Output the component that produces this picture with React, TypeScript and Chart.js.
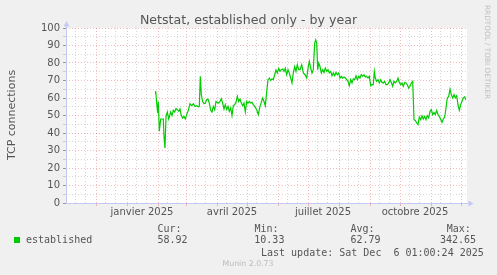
import React, { useEffect, useRef } from 'react';
import { Chart, registerables } from 'chart.js';

Chart.register(...registerables);

// Time axis: days since 1 Nov 2024 (400-day Munin "by year" window)
const START_UTC = Date.UTC(2024, 10, 1);
const RANGE_DAYS = 400;

const sampleDays = [
  89, 89.7, 90.7, 91.7, 92.3, 93.3, 94.7, 96, 97.3, 98, 99, 100, 101.3, 102.7, 104.7, 106, 107.3, 108.7, 110,
  111.3, 112.7, 114, 115.3, 116.7, 118, 119.3, 120.7, 122.3, 124, 125.7, 127.3, 129, 130.7, 132.3, 133.3,
  134.3, 135.3, 136.7, 138, 139.3, 140.7, 142, 143.3, 144.7, 146, 147.3, 148.7, 150, 151.3, 152.7, 154,
  155.3, 156.7, 158, 159.3, 160.7, 162, 163.3, 164.7, 166, 167.3, 168.7, 170, 171.3, 172.7, 174, 175.3,
  176.7, 178, 179.3, 180.7, 182, 183.3, 184.7, 186, 187.3, 188.7, 190.7, 192.3, 194, 195.3, 196.7, 198,
  199.3, 200.7, 202, 203.3, 204.7, 206, 207.3, 208.7, 210, 211.3, 212.7, 214, 215.3, 216.7, 218, 219.3,
  220.7, 222, 223.3, 224.7, 226, 227.3, 228.7, 230, 231.3, 232.7,
  234, 235.7, 237.3, 239, 240.7, 242.3, 243.3, 244.7, 246, 247.3, 248.7, 249.7, 250.7, 251.7, 252.7, 254,
  255.3, 256.7, 258, 259.3, 260.7, 262, 263.3, 264.7, 266, 267.3, 268.7, 270, 271.3, 272.7, 274, 275.3,
  276.7, 278, 279.3, 280.7, 282, 283.3, 284.7, 286, 287.3, 288.7, 290, 291.3, 292.7, 294, 295.3, 296.7,
  298, 299.3, 300.7, 302, 303.3, 304.7, 306, 307.3, 308.3, 309.3, 310.7, 312, 313.3, 314.7, 316, 317.3,
  318.7, 320, 321.3, 322.7, 324, 325.3, 326.7, 328, 329.3, 330.7, 332, 333.3, 334.7, 336, 337.3, 338.7,
  340, 341.3, 342.7, 344, 345.3, 346.7, 348, 349.3, 350.7, 352, 353.3, 354.7, 356, 357.3, 358.7, 360,
  361.3, 362.7, 364, 365.3, 366.7, 368, 369.3, 370.7, 372, 373.3, 374.7, 376, 377.3, 378.7, 380, 381.3,
  382.7, 384, 385.3, 386.7, 388, 389.3, 390.7, 392, 393.3, 394.7, 396, 397.3, 398.7, 400,
];

const connections = [
  62.7, 64, 57, 51.4, 58, 41, 48, 48, 48, 38, 31.4, 49.5, 52, 48, 52, 50, 53, 52, 54,
  53.3, 52.4, 53.7, 50, 48.5, 49.5, 48, 50.5, 53, 56.7, 55.6, 56.7, 55.2, 55.6, 55, 55.2,
  72.4, 62, 58, 56.7, 57.1, 59, 59.4, 57.1, 53, 52, 55.2, 53.3, 58, 57.5, 57.1, 58,
  59.6, 57.1, 53.7, 56.2, 53.3, 55.2, 52.4, 54.3, 50, 55.6, 56.2, 57.5, 61, 58, 59.4, 57.1,
  55.6, 57.1, 52, 58, 57.1, 58, 57.1, 57.5, 56.2, 55.2, 53.3, 50.5, 55.2, 57.5, 60, 58,
  55.6, 63.4, 70.5, 71.4, 70, 70.9, 70.5, 73.3, 76, 74.3, 77, 75.2, 76.2, 76.6, 75.2, 77,
  73.3, 76.2, 74.3, 71.4, 68.6, 74.3, 78, 75.2, 79, 76.2,
  76.2, 79, 74.3, 73.3, 71.4, 78.1, 80.9, 77.1, 74.3, 76.2, 91.4, 93.3, 91.4, 76.2, 80, 78.1,
  74.3, 76.2, 74.6, 77.1, 75.2, 76.2, 74.3, 75.2, 72.7, 74.3, 72.7, 74.6, 73.3, 74.3, 71.4, 72.4,
  71.4, 72, 71.4, 70.5, 69.5, 67, 70.5, 68.6, 70.9, 70.5, 72.7, 70.5, 72.4, 71.4, 73.3, 72.4,
  73.3, 72, 72.4, 71.4, 72.4, 67, 67.6, 67.6, 75.2, 71.4, 69.5, 70.5, 68.6, 70.5, 68.9, 68.6,
  69.5, 67.6, 67.6, 68.6, 70.5, 68.9, 66.7, 69.5, 68.6, 69.5, 71.4, 68.9, 67.6, 68.6, 66.7, 68.9,
  68.6, 67.6, 65.7, 66.7, 68.6, 69.5, 47.6, 47.2, 45.7, 44.8, 49.1, 47.6, 49.9, 48, 49.5, 47.6,
  49.9, 48.6, 52.4, 53.4, 50.5, 51.8, 50.5, 52.9, 50.5, 49.5, 47.8, 46.1, 48, 49.1, 54.3, 60,
  60.9, 65, 61.9, 60, 61.9, 60, 61.3, 56, 53, 56.2, 58.1, 60, 60.6, 58.9,
];

const yTickValues = [0, 5, 10, 15, 20, 25, 30, 35, 40, 45, 50, 55, 60, 65, 70, 75, 80, 85, 90, 95, 100];

// month grid lines (year, monthIndex)
const gridMonths: [number, number][] = [
  [2024, 11], [2025, 0], [2025, 1], [2025, 2], [2025, 3], [2025, 4], [2025, 5],
  [2025, 6], [2025, 7], [2025, 8], [2025, 9], [2025, 10], [2025, 11],
];
const minorMonths: [number, number][] = [[2024, 10], ...gridMonths];
const minorDaysOfMonth = [10, 20];

const xLabelMonths: [number, number][] = [[2025, 0], [2025, 3], [2025, 6], [2025, 9]];
const xLabelTexts = ['janvier 2025', 'avril 2025', 'juillet 2025', 'octobre 2025'];

const seriesName = 'established';
const statHeaders = ['Cur:', 'Min:', 'Avg:', 'Max:'];
const statValues = ['58.92', '10.33', '62.79', '342.65'];
const titleText = 'Netstat, established only - by year';
const yTitle = 'TCP connections';
const lastUpdate = 'Last update: Sat Dec  6 01:00:24 2025';
const footer = 'Munin 2.0.73';
const sideText = 'RRDTOOL / TOBI OETIKER';

const dayOf = (y: number, m: number, d: number) => (Date.UTC(y, m, d) - START_UTC) / 86400000;

const majorX = gridMonths.map(([y, m]) => dayOf(y, m, 1));
const minorX: number[] = [];
minorMonths.forEach(([y, m]) => minorDaysOfMonth.forEach((d) => {
  const v = dayOf(y, m, d);
  if (v > 0 && v < RANGE_DAYS) minorX.push(v);
}));
const labelX = xLabelMonths.map(([y, m]) => dayOf(y, m, 1) + 15);
const xLabelByDay = new Map<number, string>();
labelX.forEach((v, i) => xLabelByDay.set(v, xLabelTexts[i]));
const majorSet = new Set(majorX);
const minorSet = new Set(minorX);
const xTickValues = [...majorX, ...minorX, ...labelX].sort((a, b) => a - b);

const RED_GRID = 'rgba(230, 90, 90, 0.42)';
const GRAY_GRID = 'rgba(160, 160, 160, 0.42)';
const AXIS = '#c4c8f2';
const TEXT = '#555555';

const muninPlugin = {
  id: 'muninDecor',
  beforeDraw(chart: any) {
    const { ctx, chartArea: a, width, height } = chart;
    ctx.save();
    ctx.fillStyle = '#f0f0f0';
    ctx.fillRect(0, 0, width, height);
    ctx.fillStyle = '#ffffff';
    ctx.fillRect(a.left, a.top, a.right - a.left + 1, a.bottom - a.top + 1);
    ctx.restore();
  },
  afterDraw(chart: any) {
    const { ctx, chartArea: a } = chart;
    ctx.save();
    // axes
    ctx.strokeStyle = AXIS;
    ctx.fillStyle = AXIS;
    ctx.lineWidth = 1;
    ctx.beginPath();
    ctx.moveTo(a.left + 0.5, a.bottom + 1);
    ctx.lineTo(a.left + 0.5, a.top - 3);
    ctx.moveTo(a.left, a.bottom + 0.5);
    ctx.lineTo(a.right + 3, a.bottom + 0.5);
    ctx.stroke();
    ctx.beginPath();
    ctx.moveTo(a.left + 0.5, a.top - 7);
    ctx.lineTo(a.left - 2.5, a.top - 1.5);
    ctx.lineTo(a.left + 3.5, a.top - 1.5);
    ctx.closePath();
    ctx.fill();
    ctx.beginPath();
    ctx.moveTo(a.right + 7.5, a.bottom + 0.5);
    ctx.lineTo(a.right + 2.5, a.bottom - 2.5);
    ctx.lineTo(a.right + 2.5, a.bottom + 3.5);
    ctx.closePath();
    ctx.fill();

    // title
    ctx.fillStyle = TEXT;
    ctx.font = '12.6px "DejaVu Sans"';
    ctx.textAlign = 'center';
    ctx.textBaseline = 'alphabetic';
    ctx.fillText(titleText, 248.5, 24);

    // y title
    ctx.save();
    ctx.translate(15, 115);
    ctx.rotate(-Math.PI / 2);
    ctx.font = '11px "DejaVu Sans"';
    ctx.textAlign = 'center';
    ctx.fillText(yTitle, 0, 0);
    ctx.restore();

    // side text
    ctx.save();
    ctx.translate(485, 5);
    ctx.rotate(Math.PI / 2);
    ctx.font = '7.3px "DejaVu Sans"';
    ctx.textAlign = 'left';
    ctx.fillStyle = '#c0c0c0';
    ctx.fillText(sideText, 0, 0);
    ctx.restore();

    // legend
    ctx.fillStyle = '#00cc00';
    ctx.fillRect(14, 237, 6, 6);
    ctx.fillStyle = TEXT;
    ctx.font = '10px "DejaVu Sans Mono"';
    ctx.textAlign = 'left';
    ctx.fillText(seriesName, 26, 243);
    const headerX = [157.5, 254.5, 350.5, 446.7];
    const valueX = [157.5, 254.3, 350.5, 440];
    statHeaders.forEach((h, i) => ctx.fillText(h, headerX[i], 231.5));
    statValues.forEach((v, i) => ctx.fillText(v, valueX[i], 243));
    ctx.fillText(lastUpdate, 261, 255.5);

    // footer
    ctx.fillStyle = '#bbbbbb';
    ctx.font = '7.8px "DejaVu Sans"';
    ctx.textAlign = 'center';
    ctx.fillText(footer, 248, 266);
    ctx.restore();
  },
};

export default function App() {
  const canvasRef = useRef<HTMLCanvasElement | null>(null);

  useEffect(() => {
    if (!canvasRef.current) return;
    const chart = new Chart(canvasRef.current, {
      type: 'line',
      data: {
        datasets: [
          {
            label: seriesName,
            data: sampleDays.map((d, i) => ({ x: d, y: connections[i] })),
            borderColor: '#00cc00',
            borderWidth: 1.2,
            pointRadius: 0,
            fill: false,
            tension: 0,
          },
        ],
      },
      options: {
        animation: false,
        responsive: false,
        devicePixelRatio: 1,
        events: [],
        layout: { padding: { left: 0, top: 28, right: 31, bottom: 52 } },
        plugins: { legend: { display: false }, tooltip: { enabled: false }, title: { display: false } },
        scales: {
          x: {
            type: 'linear',
            min: 0,
            max: RANGE_DAYS,
            afterFit: (s: any) => { s.height = 20; },
            afterBuildTicks: (s: any) => { s.ticks = xTickValues.map((v) => ({ value: v })); },
            grid: {
              color: (c: any) => majorSet.has(c.tick?.value) ? RED_GRID : minorSet.has(c.tick?.value) ? GRAY_GRID : 'rgba(0,0,0,0)',
              tickColor: (c: any) => majorSet.has(c.tick?.value) ? RED_GRID : 'rgba(0,0,0,0)',
              tickLength: 3,
              drawTicks: true,
              lineWidth: 1,
            },
            border: { display: false, dash: [1, 2] },
            ticks: {
              autoSkip: false,
              maxRotation: 0,
              minRotation: 0,
              padding: 0,
              color: TEXT,
              font: { size: 10, family: 'DejaVu Sans' },
              callback: (v: any) => xLabelByDay.get(Number(v)) ?? '',
            },
          },
          y: {
            type: 'linear',
            min: 0,
            max: 100,
            afterFit: (s: any) => { s.width = 66; },
            afterBuildTicks: (s: any) => { s.ticks = yTickValues.map((v) => ({ value: v })); },
            grid: {
              color: (c: any) => (c.tick?.value % 10 === 0 ? RED_GRID : GRAY_GRID),
              tickColor: (c: any) => (c.tick?.value % 10 === 0 ? '#999999' : '#cccccc'),
              tickLength: 3,
              drawTicks: true,
              lineWidth: 1,
            },
            border: { display: false, dash: [1, 2] },
            ticks: {
              autoSkip: false,
              padding: 3,
              color: TEXT,
              font: { size: 10, family: 'DejaVu Sans' },
              callback: (v: any) => (Number(v) % 10 === 0 ? String(v) : ''),
            },
          },
        },
      },
      plugins: [muninPlugin],
    } as any);
    return () => chart.destroy();
  }, []);

  return (
    <div style={{ position: 'fixed', left: 0, top: 0, width: 497, height: 275, background: '#f0f0f0' }}>
      <canvas ref={canvasRef} width={497} height={275} style={{ display: 'block' }} />
    </div>
  );
}
